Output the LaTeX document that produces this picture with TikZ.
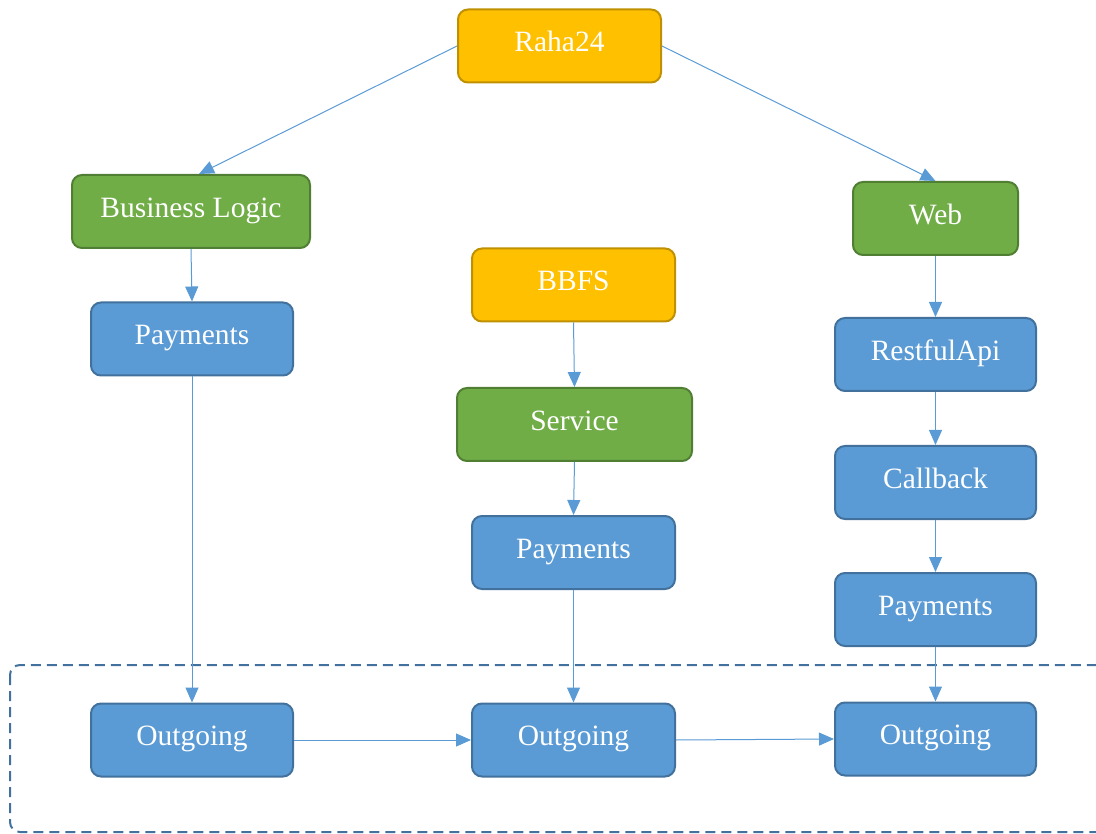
\documentclass[tikz,border=0pt]{standalone}
\usepackage{fontspec}
\setmainfont{Liberation Serif}
\usetikzlibrary{arrows.meta}
\definecolor{gold}{HTML}{FFC000}
\definecolor{goldline}{HTML}{BF9000}
\definecolor{leaf}{HTML}{70AD47}
\definecolor{leafline}{HTML}{507E32}
\definecolor{sky}{HTML}{5B9BD5}
\definecolor{skyline}{HTML}{41719C}
\tikzset{
  box/.style={rectangle, rounded corners=10pt, line width=2pt, text=white,
    font=\fontsize{29.5}{34}\selectfont, inner sep=0pt, minimum height=73pt,
    text height=18pt, text depth=6.6pt},
  top/.style={box, fill=gold, draw=goldline},
  mid/.style={box, fill=leaf, draw=leafline},
  low/.style={box, fill=sky, draw=skyline},
  link/.style={draw=sky, line width=1pt, -{Triangle[length=15pt,width=13pt]}},
  group/.style={draw=skyline, line width=2pt, dash pattern=on 10pt off 6pt, rounded corners=10pt}
}
\begin{document}
\begin{tikzpicture}[x=1pt,y=-1pt]
\useasboundingbox (0,0) rectangle (1096,834);
\draw[group] (10,665) rectangle (1110,832);

\node[top, minimum width=203pt] (raha) at (559.5,46) {Raha24};
\node[mid, minimum width=238pt] (bl) at (191,211.5) {Business Logic};
\node[mid, minimum width=165pt] (web) at (935.5,218.5) {Web};
\node[top, minimum width=203pt] (bbfs) at (573.5,285) {BBFS};
\node[low, minimum width=202pt] (payL) at (192,339) {Payments};
\node[low, minimum width=201pt] (rest) at (935.5,354.5) {RestfulApi};
\node[mid, minimum width=235pt] (serv) at (574.5,424.5) {Service};
\node[low, minimum width=201pt] (call) at (935.5,482.5) {Callback};
\node[low, minimum width=203pt] (payM) at (573.5,552.5) {Payments};
\node[low, minimum width=201pt] (payR) at (935.5,609.5) {Payments};
\node[low, minimum width=202pt] (outL) at (192,740) {Outgoing};
\node[low, minimum width=203pt] (outM) at (573.5,740) {Outgoing};
\node[low, minimum width=201pt] (outR) at (935.5,739) {Outgoing};

\draw[link] (raha.west) -- ([xshift=8pt]bl.north);
\draw[link] (raha.east) -- (web.north);
\draw[link] (bl.south) -- (payL.north);
\draw[link] (payL.south) -- (outL.north);
\draw[link] (bbfs.south) -- (serv.north);
\draw[link] (serv.south) -- (payM.north);
\draw[link] (payM.south) -- (outM.north);
\draw[link] (web.south) -- (rest.north);
\draw[link] (rest.south) -- (call.north);
\draw[link] (call.south) -- (payR.north);
\draw[link] (payR.south) -- (outR.north);
\draw[link] (outL.east) -- (outM.west);
\draw[link] (outM.east) -- (outR.west);
\end{tikzpicture}
\end{document}
